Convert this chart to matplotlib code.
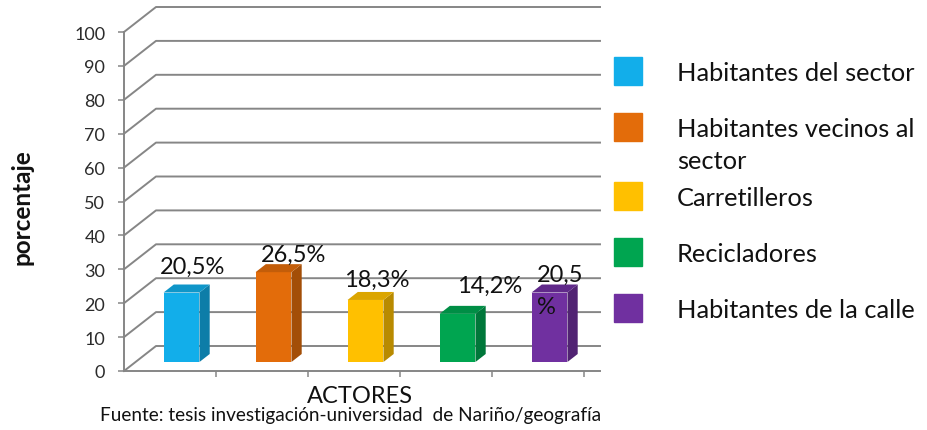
import matplotlib.pyplot as plt
import numpy as np
from matplotlib.colors import to_rgb
from matplotlib.patches import Polygon, Rectangle

plt.rcParams["font.family"] = ["Lato", "DejaVu Sans"]

# =========================
# 数据
# =========================
actores = [
    "Habitantes del sector",
    "Habitantes vecinos al\nsector",
    "Carretilleros",
    "Recicladores",
    "Habitantes de la calle",
]
porcentajes = [20.5, 26.5, 18.3, 14.2, 20.5]
etiquetas = ["20,5%", "26,5%", "18,3%", "14,2%", "20,5\n%"]
colores = ["#12AEEA", "#E36C0A", "#FFC000", "#00A550", "#7030A0"]

W, H = 928, 431
GRID = "#868686"
TXT = "#111111"

fig = plt.figure(figsize=(W / 100, H / 100), dpi=100)

# 主坐标轴：x 为类别槽位 (0..5)，y 为百分比
ax = fig.add_axes([124 / W, 59 / H, 460 / W, 339 / H])
ax.set_xlim(0, 5)
ax.set_ylim(0, 100)

px_x = 460 / 5      # 每个 x 单位的像素
px_y = 339 / 100    # 每个 y 单位的像素
DX = 32 / px_x      # 背墙深度偏移
DY = 25 / px_y
XEND = 476 / px_x   # 背墙和地板右端

# 背墙网格线（含斜线）
for y in range(0, 101, 10):
    ax.plot([0, DX, XEND], [y, y + DY, y + DY], color=GRID, lw=1.4,
            clip_on=False, zorder=1)
ax.plot([0, XEND], [0, 0], color=GRID, lw=1.4, clip_on=False, zorder=1)

for s in ["top", "right", "bottom"]:
    ax.spines[s].set_visible(False)
ax.spines["left"].set_color(GRID)
ax.spines["left"].set_linewidth(1.4)
ax.patch.set_alpha(0)

ax.set_yticks(range(0, 101, 10))
ax.tick_params(axis="y", length=4.5, width=1.1, color=GRID, pad=9,
               labelsize=13, labelcolor="#2b2b2b")
ax.set_xticks(range(1, 6))
ax.set_xticklabels([])
ax.tick_params(axis="x", length=4, width=1.1, color=GRID)

# =========================
# 3D 柱体
# =========================
f = 0.36          # 柱体正面所在深度
g = 0.32          # 柱体厚度
bw = 0.39         # 柱宽
x = np.arange(len(porcentajes)) + 0.5 + f * DX
y0 = f * DY

ax.bar(x, porcentajes, width=bw, bottom=y0, color=colores, zorder=3)

for xc, v, c in zip(x, porcentajes, colores):
    rgb = np.array(to_rgb(c))
    xl, xr = xc - bw / 2, xc + bw / 2
    top = y0 + v
    side = Polygon([(xr, y0), (xr + g * DX, y0 + g * DY),
                    (xr + g * DX, top + g * DY), (xr, top)],
                   closed=True, color=rgb * 0.72, lw=0, zorder=3)
    lid = Polygon([(xl, top), (xl + g * DX, top + g * DY),
                   (xr + g * DX, top + g * DY), (xr, top)],
                  closed=True, color=rgb * 0.86, lw=0, zorder=3)
    ax.add_patch(side)
    ax.add_patch(lid)

# 数据标签（像素微调；多行标签以最后一行基线定位）
lab_dx = [6, 15, 6, 27, 0]
lab_dy = [12, 3, 6, 14, -28]
for i, (xc, v, t) in enumerate(zip(x, porcentajes, etiquetas)):
    top = y0 + v + g * DY
    if "\n" in t:
        ax.text(xc - bw / 2 + 5 / px_x, top + lab_dy[i] / px_y, t,
                ha="left", va="baseline", fontsize=17, color=TXT,
                linespacing=1.6, zorder=5)
    else:
        ax.text(xc + (g * DX) / 2 + lab_dx[i] / px_x, top + lab_dy[i] / px_y,
                t, ha="center", va="baseline", fontsize=17, color=TXT,
                zorder=5)

# =========================
# 文字与图例（像素坐标画布）
# =========================
cv = fig.add_axes([0, 0, 1, 1])
cv.set_xlim(0, W)
cv.set_ylim(H, 0)
cv.axis("off")

cv.text(22, 207, "porcentaje", rotation=90, ha="center", va="center",
        fontsize=17.5, fontweight="bold", color=TXT)
cv.text(360, 397, "ACTORES", ha="center", va="center", fontsize=17,
        color=TXT)
cv.text(100, 416, "Fuente: tesis investigación-universidad  de Nariño/geografía",
        ha="left", va="center", fontsize=13.7, color=TXT)

fs_leg = 18.3
row = 72
for nombre, c in zip(actores, colores):
    cv.add_patch(Rectangle((614, row - 14), 28, 28, color=c))
    cv.text(677, row - 0.41 * fs_leg / 0.72, nombre, ha="left", va="top",
            fontsize=fs_leg, color=TXT, linespacing=1.52)
    row += 56 + (13 if "\n" in nombre else 0)

fig.savefig("out.png", dpi=100)
